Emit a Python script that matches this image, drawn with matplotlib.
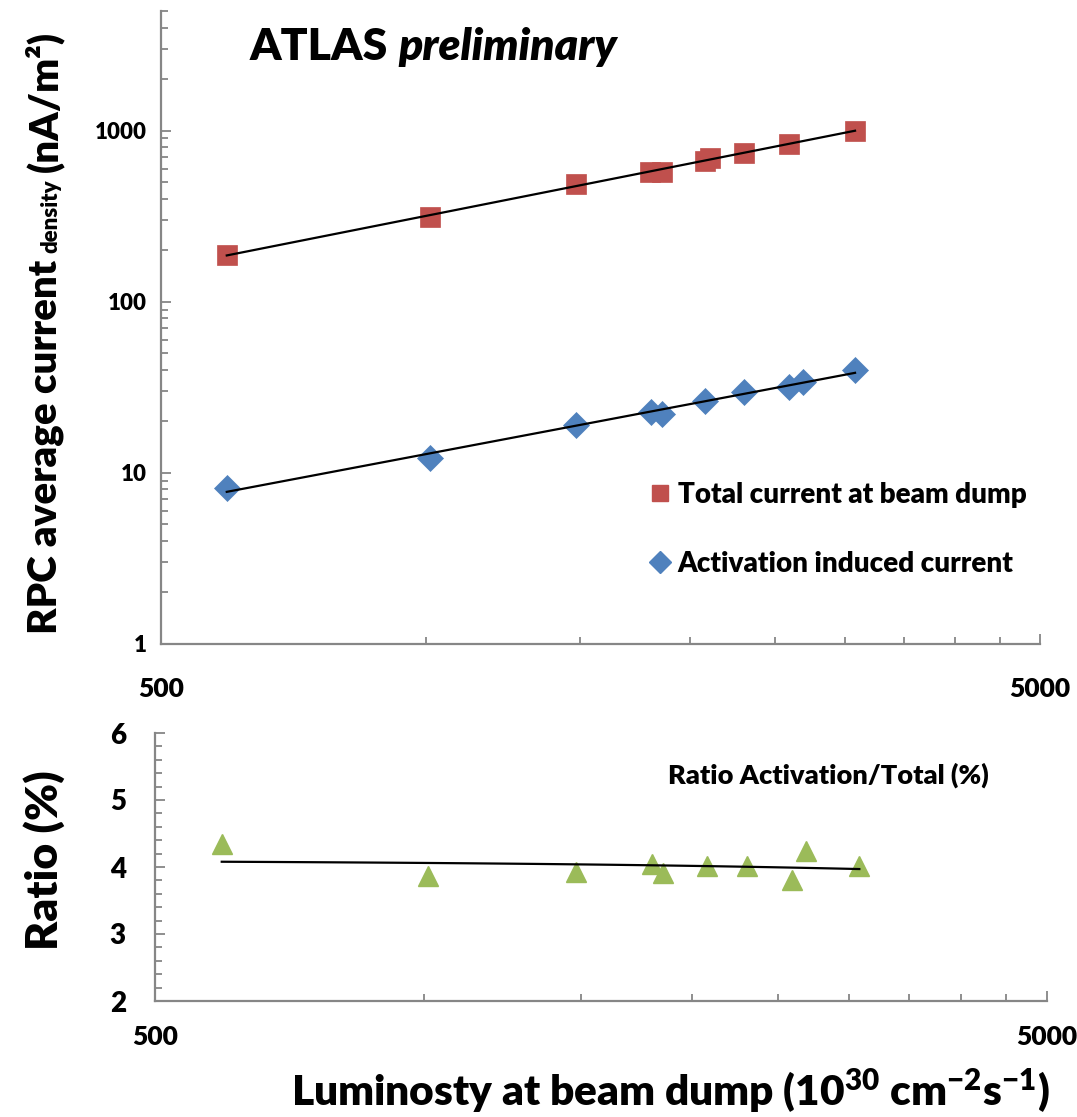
import numpy as np
import matplotlib
matplotlib.use("Agg")
import matplotlib.pyplot as plt
from matplotlib.ticker import FixedLocator, FixedFormatter, NullFormatter
from matplotlib.lines import Line2D

plt.rcParams['font.family'] = ['Lato', 'DejaVu Sans']
plt.rcParams['font.weight'] = 'heavy'
plt.rcParams['mathtext.fontset'] = 'custom'
plt.rcParams['mathtext.rm'] = 'Lato:heavy'
plt.rcParams['mathtext.bf'] = 'Lato:heavy'
plt.rcParams['mathtext.default'] = 'rm'

# luminosity at beam dump (1e30 cm-2 s-1) and RPC currents (nA/m2)
lumi_total = [594, 1012, 1483, 1800, 1857, 2080, 2107, 2302, 2591, 3080]
total_current = [188, 314, 490, 575, 575, 668, 692, 741, 839, 1000]

lumi = [594, 1012, 1483, 1805, 1857, 2080, 2302, 2591, 2687, 3080]
activation_current = [8.17, 12.2, 19.1, 22.7, 22.1, 26.4, 29.8, 31.8, 34.0, 40.0]
ratio_pct = [4.35, 3.87, 3.92, 4.05, 3.91, 4.01, 4.02, 3.80, 4.24, 4.02]

x_major = [500, 5000]
x_minor = [1000, 1500, 2000, 2500, 3000, 3500, 4000, 4500]
y_major = [1, 10, 100, 1000]
y_minor = [m * d for d in (1, 10, 100) for m in range(2, 10)] + [2000, 3000, 4000, 5000]

RED = '#C0504D'
BLUE = '#4F81BD'
GREEN = '#9BBB59'
GREY = '#868686'
WT = 'heavy'


def power_fit(x, y):
    b, a = np.polyfit(np.log10(x), np.log10(y), 1)
    xs = np.array([min(x), max(x)], dtype=float)
    return xs, 10 ** (a + b * np.log10(xs))


def style_axis(ax):
    for s in ('top', 'right'):
        ax.spines[s].set_visible(False)
    for s in ('left', 'bottom'):
        ax.spines[s].set_color(GREY)
        ax.spines[s].set_linewidth(1.6)
    ax.tick_params(which='both', direction='in', color=GREY, width=1.3)
    ax.tick_params(which='major', length=7)
    ax.tick_params(which='minor', length=5)
    ax.set_xscale('log')
    ax.set_xlim(500, 5000)
    ax.xaxis.set_major_locator(FixedLocator(x_major))
    ax.xaxis.set_major_formatter(FixedFormatter([str(v) for v in x_major]))
    ax.xaxis.set_minor_locator(FixedLocator(x_minor))
    ax.xaxis.set_minor_formatter(NullFormatter())


fig = plt.figure(figsize=(10.77, 11.17), dpi=100)
W, H = 1077, 1117

# upper panel: currents
ax1 = fig.add_axes([161 / W, 1 - 644 / H, 879 / W, 633 / H])
style_axis(ax1)
ax1.set_yscale('log')
ax1.set_ylim(1, 5000)
ax1.yaxis.set_major_locator(FixedLocator(y_major))
ax1.yaxis.set_major_formatter(FixedFormatter([str(v) for v in y_major]))
ax1.yaxis.set_minor_locator(FixedLocator(y_minor))
ax1.yaxis.set_minor_formatter(NullFormatter())
ax1.tick_params(axis='x', which='major', labelsize=19, pad=24)
ax1.tick_params(axis='y', which='major', labelsize=16, pad=10)

xs, ys = power_fit(lumi_total, total_current)
ax1.plot(xs, ys, color='black', lw=1.6, zorder=3)
xs, ys = power_fit(lumi, activation_current)
ax1.plot(xs, ys, color='black', lw=1.6, zorder=3)
ax1.plot(lumi_total, total_current, ls='none', marker='s', ms=14, color=RED, mec=RED, mew=0.5, zorder=2)
ax1.plot(lumi, activation_current, ls='none', marker='D', ms=13, color=BLUE, mec=BLUE, mew=0.5, zorder=2)

handles = [Line2D([], [], ls='none', marker='s', ms=12, color=RED),
           Line2D([], [], ls='none', marker='D', ms=11.5, color=BLUE)]
ax1.legend(handles, ['Total current at beam dump', 'Activation induced current'],
           loc='upper left', bbox_to_anchor=(650 / W, 1 - 482 / H), bbox_transform=fig.transFigure,
           frameon=False, fontsize=20, handlelength=0.7, handletextpad=0.3,
           labelspacing=1.55, borderpad=0, borderaxespad=0)

t1 = fig.text(250 / W, 1 - 60 / H, 'ATLAS', fontsize=32, fontweight=WT, va='baseline')
fig.canvas.draw()
ax1.annotate('preliminary', xy=(1, 0), xycoords=t1, xytext=(10, 0), textcoords='offset pixels',
             fontsize=32, fontweight=WT, style='italic', ha='left', va='bottom')

# y label with smaller "density"
renderer = fig.canvas.get_renderer()
ypos = 1 - 634 / H
for txt, size, gap in [('RPC average current', 29, 7), ('density', 16, 7), ('(nA/m²)', 29, 0)]:
    t = fig.text(57 / W, ypos, txt, rotation=90, rotation_mode='anchor', ha='left', va='baseline',
                 fontsize=size, fontweight=WT)
    bb = t.get_window_extent(renderer)
    ypos += (bb.height + gap) / H

# lower panel: ratio
ax2 = fig.add_axes([155 / W, 1 - 1001 / H, 892 / W, 268 / H])
style_axis(ax2)
ax2.set_ylim(2, 6)
ax2.yaxis.set_major_locator(FixedLocator([2, 3, 4, 5, 6]))
ax2.yaxis.set_minor_locator(FixedLocator(np.arange(2.2, 6.0, 0.2)))
ax2.tick_params(axis='x', which='major', labelsize=19, pad=17)
ax2.tick_params(axis='y', which='major', labelsize=20, pad=21)

# linear trend of the ratio versus luminosity
b, a = np.polyfit(lumi, ratio_pct, 1)
xr = np.geomspace(min(lumi), max(lumi), 50)
ax2.plot(xr, a + b * xr, color='black', lw=1.6, zorder=3)
ax2.plot(lumi, ratio_pct, ls='none', marker='^', ms=14, color=GREEN, zorder=2)

fig.text(668 / W, 1 - 775 / H, 'Ratio Activation/Total (%)', fontsize=19.5, fontweight=WT, va='center')
fig.text(44 / W, 1 - 860 / H, 'Ratio (%)', rotation=90, fontsize=32, fontweight=WT,
         ha='center', va='center')

fig.text(670 / W, 1 - 1106 / H, r'Luminosty at beam dump (10$^{30}$ cm$^{-2}$s$^{-1}$)',
         fontsize=30.5, fontweight=WT, ha='center', va='baseline')

fig.savefig('out.png', dpi=100)
